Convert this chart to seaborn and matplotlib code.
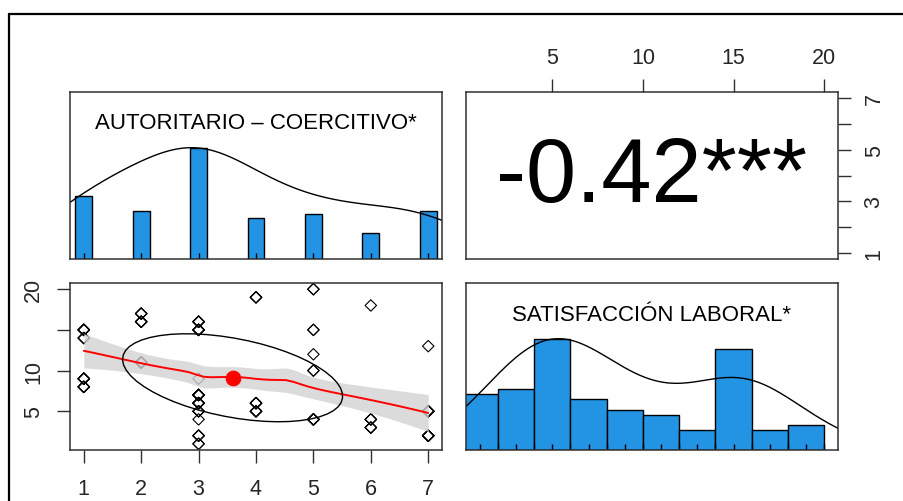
import numpy as np
import pandas as pd
import matplotlib
matplotlib.use("Agg")
import matplotlib.pyplot as plt
from matplotlib.lines import Line2D
import seaborn as sns

# Combinaciones observadas: nivel autoritario-coercitivo, puntuación de
# satisfacción laboral y número de casos con esa combinación
autoritario = [1, 1, 1, 1,
               2, 2, 2,
               3, 3, 3, 3, 3, 3, 3, 3, 3,
               4, 4, 4,
               5, 5, 5, 5, 5,
               6, 6, 6,
               7, 7, 7]
satisfaccion = [15, 14, 9, 8,
                17, 16, 11,
                16, 15, 9, 7, 6, 5, 4, 2, 1,
                19, 6, 5,
                20, 15, 12, 10, 4,
                18, 4, 3,
                13, 5, 2]
casos = [5, 3, 5, 4,
         3, 4, 6,
         4, 5, 1, 6, 5, 3, 1, 3, 2,
         3, 4, 4,
         2, 2, 1, 2, 5,
         1, 3, 3,
         1, 6, 6]

nombres = ["AUTORITARIO – COERCITIVO*", "SATISFACCIÓN LABORAL*"]
ticks_aut = [1, 2, 3, 4, 5, 6, 7]
etiq_aut_der = ["1", "", "3", "", "5", "", "7"]
ticks_sat = [5, 10, 15, 20]
etiq_sat_izq = ["5", "10", "", "20"]
cortes_sat = list(range(0, 21, 2))

df = pd.DataFrame({"aut": np.repeat(autoritario, casos),
                   "sat": np.repeat(satisfaccion, casos)})
x = df["aut"].to_numpy(float)
y = df["sat"].to_numpy(float)
n = len(x)

sns.set_style("white")
plt.rcParams["font.family"] = ["Liberation Sans", "DejaVu Sans"]

AZUL = "#2393E3"
EJE = "#303030"
FS_TIT = 16
FS_TICK = 15.5


def rango(v):
    lo, hi = np.min(v), np.max(v)
    e = 0.04 * (hi - lo)
    return lo - e, hi + e


def densidad(v):
    v = np.asarray(v, float)
    q75, q25 = np.percentile(v, [75, 25])
    bw = 1.06 * min(np.std(v, ddof=1), (q75 - q25) / 1.34) * len(v) ** -0.2 * 1.2
    g = np.linspace(v.min() - 3 * bw, v.max() + 3 * bw, 512)
    d = np.exp(-0.5 * ((g[:, None] - v[None, :]) / bw) ** 2).sum(axis=1)
    return g, d / d.max()


def matriz_loess(px, xs, rob, span=0.75):
    q = int(np.floor(len(xs) * span))
    L = np.zeros((len(px), len(xs)))
    for i, x0 in enumerate(px):
        dist = np.abs(xs - x0)
        h = np.sort(dist)[q - 1] * 1.0001
        u = dist / h
        w = np.where(u < 1, (1 - u ** 3) ** 3, 0.0) * rob
        X = np.column_stack([np.ones_like(xs), xs - x0])
        A = X.T @ (w[:, None] * X)
        L[i] = np.linalg.solve(A, (X * w[:, None]).T)[0]
    return L


def loess(xs, ys, grid, robusto=0):
    rob = np.ones_like(xs)
    for _ in range(robusto):
        Lx = matriz_loess(xs, xs, rob)
        res = ys - Lx @ ys
        s = np.median(np.abs(res))
        u = res / (6 * s)
        rob = np.where(np.abs(u) < 1, (1 - u ** 2) ** 2, 0.0)
    Lx = matriz_loess(xs, xs, rob)
    res = ys - Lx @ ys
    sigma = np.sqrt(np.sum(res ** 2) / (len(xs) - np.trace(Lx)))
    Lg = matriz_loess(grid, xs, rob)
    fit = Lg @ ys
    se = sigma * np.sqrt(np.sum(Lg ** 2, axis=1))
    return fit, fit - 1.98 * se, fit + 1.98 * se


W, H = 904, 502
fig = plt.figure(figsize=(W / 100, H / 100), dpi=100)


def panel(x0, y0, x1, y1):
    ax = fig.add_axes([x0 / W, 1 - y1 / H, (x1 - x0) / W, (y1 - y0) / H])
    for s in ax.spines.values():
        s.set_visible(True)
        s.set_color(EJE)
        s.set_linewidth(1.1)
    ax.set_xticks([])
    ax.set_yticks([])
    return ax


ax_tl = panel(70, 93, 442, 260)
ax_tr = panel(466, 93, 838, 260)
ax_bl = panel(70, 284, 442, 451)
ax_br = panel(466, 284, 838, 451)

xr = rango(x)
yr = rango(y)

# Diagonal superior: distribución del estilo autoritario
cnt_aut = np.unique(x, return_counts=True)[1]
h_aut = pd.DataFrame({"v": x, "w": 1.0 / cnt_aut.max()})
sns.histplot(data=h_aut, x="v", weights="w", discrete=True, shrink=2 * 6 / 41,
             color=AZUL, alpha=1, edgecolor="black", linewidth=1.0, ax=ax_tl)
g, d = densidad(x)
sns.lineplot(x=g, y=d, color="black", linewidth=1.0, ax=ax_tl)
sns.rugplot(x=np.unique(x), height=0.035, color="black", linewidth=1.0, ax=ax_tl)
ax_tl.set_xlim(*xr)
ax_tl.set_ylim(0, 1.5)
ax_tl.text(0.5, 0.82, nombres[0], transform=ax_tl.transAxes, ha="center", va="center",
           fontsize=FS_TIT, color="black")

# Diagonal inferior: distribución de la satisfacción laboral
bordes = [c + 1e-6 for c in cortes_sat]
cnt_sat = np.histogram(y, bins=bordes)[0]
h_sat = pd.DataFrame({"v": y, "w": 1.0 / cnt_sat.max()})
sns.histplot(data=h_sat, x="v", weights="w", bins=bordes,
             color=AZUL, alpha=1, edgecolor="black", linewidth=1.0, ax=ax_br)
g, d = densidad(y)
sns.lineplot(x=g, y=d, color="black", linewidth=1.0, ax=ax_br)
sns.rugplot(x=np.unique(y), height=0.035, color="black", linewidth=1.0, ax=ax_br)
ax_br.set_xlim(*yr)
ax_br.set_ylim(0, 1.5)
ax_br.text(0.5, 0.81, nombres[1], transform=ax_br.transAxes, ha="center", va="center",
           fontsize=FS_TIT, color="black")

# Dispersión con ajuste loess, banda de confianza y elipse de correlación
sns.scatterplot(x=x, y=y, marker="D", s=34, ax=ax_bl, zorder=2)
pts = ax_bl.collections[-1]
pts.set_facecolor("none")
pts.set_edgecolor("black")
pts.set_linewidth(0.8)

malla = np.linspace(x.min(), x.max(), 47)
fit, lo, hi = loess(x, y, malla)
ax_bl.fill_between(malla, lo, hi, color="lightgray", alpha=0.8, linewidth=0, zorder=3)
sns.lineplot(x=malla, y=fit, color="red", linewidth=1.4, ax=ax_bl, zorder=4)

mx, my = x.mean(), y.mean()
sx, sy = x.std(ddof=1), y.std(ddof=1)
r = np.corrcoef(x, y)[0, 1]
ang = np.arange(52) * 2 * np.pi / 51
th = np.sign(r) / np.sqrt(2)
forma = np.diag([np.sqrt(1 + r), np.sqrt(1 - r)]) @ np.array([[th, th], [-th, th]])
elip = np.column_stack([np.cos(ang), np.sin(ang)]) @ forma
sns.lineplot(x=elip[:, 0] * sx + mx, y=elip[:, 1] * sy + my, sort=False, estimator=None,
             color="black", linewidth=1.0, ax=ax_bl, zorder=5)
sns.scatterplot(x=[mx], y=[my], s=110, color="red", edgecolor="red", ax=ax_bl, zorder=6)

for a in (ax_tl, ax_br, ax_bl):
    a.set_xlabel("")
    a.set_ylabel("")
ax_tl.set_yticks([])
ax_tl.set_xticks([])
ax_br.set_yticks([])
ax_br.set_xticks([])

ax_bl.set_xlim(*xr)
ax_bl.set_ylim(*yr)
ax_bl.set_xticks(ticks_aut)
ax_bl.set_xticklabels([str(t) for t in ticks_aut])
ax_bl.set_yticks(ticks_sat)
ax_bl.set_yticklabels(etiq_sat_izq, rotation=90, va="center")
ax_bl.tick_params(axis="both", length=9.5, width=1.0, color=EJE, labelsize=FS_TICK,
                  direction="out", bottom=True, left=True)
ax_bl.tick_params(axis="x", pad=11)
ax_bl.tick_params(axis="y", pad=9)

# Panel superior derecho: coeficiente de correlación
ax_tr.set_xlim(*yr)
ax_tr.set_ylim(*xr)
ax_tr.xaxis.tick_top()
ax_tr.yaxis.tick_right()
ax_tr.set_xticks(ticks_sat)
ax_tr.set_xticklabels([str(t) for t in ticks_sat])
ax_tr.set_yticks(ticks_aut)
ax_tr.set_yticklabels(etiq_aut_der, rotation=90, va="center")
ax_tr.tick_params(axis="both", length=9.5, width=1.0, color=EJE, labelsize=FS_TICK,
                  direction="out", top=True, right=True, bottom=False, left=False)
ax_tr.tick_params(axis="x", pad=8)
ax_tr.tick_params(axis="y", pad=9)
ax_tr.text(0.5, 0.49, f"{r:.2f}***", transform=ax_tr.transAxes, ha="center", va="center",
           fontsize=65, color="black")

# Marco exterior
fx = 8.5 / W
fy = 1 - 15 / H
fig.add_artist(Line2D([fx, fx], [0, fy], transform=fig.transFigure, color="black", linewidth=1.6))
fig.add_artist(Line2D([fx, 1], [fy, fy], transform=fig.transFigure, color="black", linewidth=1.6))

fig.savefig("out.png", dpi=100, facecolor="white")
